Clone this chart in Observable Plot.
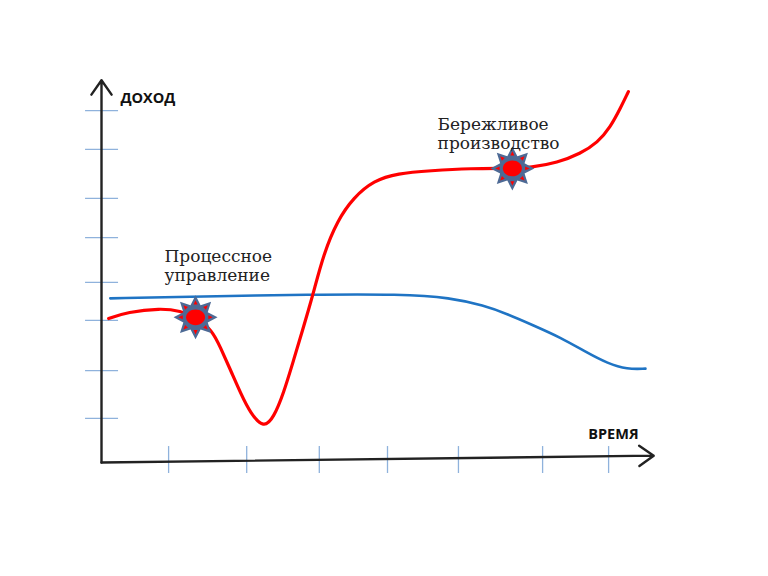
<!DOCTYPE html>
<html>
<head>
<meta charset="utf-8">
<script src="https://cdn.jsdelivr.net/npm/d3@7"></script>
<script src="https://cdn.jsdelivr.net/npm/@observablehq/plot@0.6"></script>
<style>
  html, body { margin: 0; padding: 0; background: #fff; }
  #chart svg { display: block; }
</style>
</head>
<body>
<div id="chart"></div>
<script>
// Time (x) and income (y), both in arbitrary units 0..100
const redTime   = [1.3, 4.7, 10.7, 14.4, 17.1, 20.2, 21.6, 23.5, 25.3, 27.1, 29.5, 31.3, 33.1, 34.9, 36.7, 37.6, 38.5, 40.4, 42.9, 45.8, 49.5, 53.8, 59.8, 67.1, 74.7, 78.0, 82.9, 87.1, 90.2, 92.5, 94.4, 95.8];
const redIncome = [37.9, 39.6, 40.6, 39.9, 38.2, 34.7, 30.3, 24.2, 18.2, 12.9, 9.0, 11.8, 18.2, 26.8, 35.5, 40.0, 44.5, 55.0, 63.7, 69.7, 74.2, 76.1, 76.8, 77.4, 77.4, 77.6, 78.9, 81.3, 84.2, 88.2, 93.4, 97.6];

const blueTime   = [1.6, 18, 38, 54.4, 63.5, 69.5, 73.8, 78.5, 83.5, 88.4, 92.0, 95.6, 98.9];
const blueIncome = [43.2, 43.7, 44.2, 44.3, 43.4, 41.3, 39.1, 36.1, 32.9, 28.8, 26.1, 24.5, 24.7];

const xTicks = [12.2, 26.4, 39.6, 52.0, 64.9, 80.2, 92.2];
const yTicks = [11.6, 24.2, 37.4, 47.4, 59.2, 69.5, 82.4, 92.6];

const starTime   = [17.1, 74.7];
const starIncome = [38.2, 77.4];

const noteTexts  = ["Процессное\nуправление", "Бережливое\nпроизводство"];
const noteTime   = [11.45, 61.1];
const noteIncome = [56.3, 91.0];

const axisLabels = ["ДОХОД", "ВРЕМЯ"];
const axisLabelTime   = [3.45, 88.5];
const axisLabelIncome = [95.7, 7.5];

// axis end points (origin -> arrow tip)
const axisX1 = [0, 0], axisY1 = [0, 0];
const axisX2 = [0, 100.4], axisY2 = [100.6, 1.8];

const red = redTime.map((t, i) => ({t, v: redIncome[i]}));
const blue = blueTime.map((t, i) => ({t, v: blueIncome[i]}));
const stars = starTime.map((t, i) => ({t, v: starIncome[i]}));
const notes = noteTexts.map((s, i) => ({s, t: noteTime[i], v: noteIncome[i]}));
const labels = axisLabels.map((s, i) => ({s, t: axisLabelTime[i], v: axisLabelIncome[i]}));
const axes = axisX1.map((x1, i) => ({x1, y1: axisY1[i], x2: axisX2[i], y2: axisY2[i]}));

// custom symbols
const starSymbol = {
  draw(ctx, size) {
    const R = Math.sqrt(size / Math.PI), r = R * 0.6, n = 8;
    for (let k = 0; k < 2 * n; k++) {
      const a = -Math.PI / 2 + k * Math.PI / n;
      const rr = k % 2 === 0 ? R : r;
      const x = rr * Math.cos(a), y = rr * Math.sin(a);
      if (k === 0) ctx.moveTo(x, y); else ctx.lineTo(x, y);
    }
    ctx.closePath();
  }
};
const spikeSymbol = {
  draw(ctx, size) {
    const R = Math.sqrt(size / Math.PI), n = 8;
    for (let k = 0; k < n; k++) {
      const a = -Math.PI / 2 + k * 2 * Math.PI / n;
      const c = Math.cos(a), s = Math.sin(a);
      const tip = 0.78 * R, base = 0.58 * R, w = 0.09 * R;
      ctx.moveTo(tip * c, tip * s);
      ctx.lineTo(base * c - w * s, base * s + w * c);
      ctx.lineTo(base * c + w * s, base * s - w * c);
      ctx.closePath();
    }
  }
};
const ellipseSymbol = {
  draw(ctx, size) {
    const rx = Math.sqrt(size / Math.PI), ry = rx * 0.82, k = 0.5523;
    ctx.moveTo(rx, 0);
    ctx.bezierCurveTo(rx, k * ry, k * rx, ry, 0, ry);
    ctx.bezierCurveTo(-k * rx, ry, -rx, k * ry, -rx, 0);
    ctx.bezierCurveTo(-rx, -k * ry, -k * rx, -ry, 0, -ry);
    ctx.bezierCurveTo(k * rx, -ry, rx, -k * ry, rx, 0);
    ctx.closePath();
  }
};

const tickColor = "#8fb2dc";

const plot = Plot.plot({
  width: 768,
  height: 576,
  margin: 0,
  x: {domain: [0, 100], range: [101, 651], axis: null},
  y: {domain: [0, 100], range: [462, 82], axis: null},
  style: {background: "#fff"},
  marks: [
    Plot.ruleY(yTicks, {y: d => d, x1: -2.9, x2: 3.1, stroke: tickColor, strokeWidth: 1.3}),
    Plot.ruleX(xTicks, {x: d => d, y1: -2.9, y2: 4.2, stroke: tickColor, strokeWidth: 1.3}),
    Plot.arrow(axes, {x1: "x1", y1: "y1", x2: "x2", y2: "y2", stroke: "#222", strokeWidth: 2.4, headLength: 11, headAngle: 70}),
    Plot.line(blue, {x: "t", y: "v", stroke: "#1f74c4", strokeWidth: 2.6, curve: "basis"}),
    Plot.line(red, {x: "t", y: "v", stroke: "#ff0000", strokeWidth: 3.2, curve: "basis"}),
    Plot.dot(stars, {x: "t", y: "v", r: 22, symbol: starSymbol, fill: "#4d6a95", stroke: "none"}),
    Plot.dot(stars, {x: "t", y: "v", r: 22, symbol: spikeSymbol, fill: "#ff0000", stroke: "none"}),
    Plot.dot(stars, {x: "t", y: "v", r: 9.5, symbol: ellipseSymbol, fill: "#ff0000", stroke: "none"}),
    Plot.text(notes, {x: "t", y: "v", text: "s", textAnchor: "start", lineAnchor: "top", lineHeight: 1.12,
      fontFamily: "DejaVu Serif", fontSize: 17, fill: "#222"}),
    Plot.text(labels, {x: "t", y: "v", text: "s", textAnchor: "start", lineAnchor: "middle",
      fontFamily: "Open Sans", fontWeight: "bold", fontSize: 14.5, fill: "#111"})
  ]
});
document.getElementById("chart").append(plot);
</script>
</body>
</html>
